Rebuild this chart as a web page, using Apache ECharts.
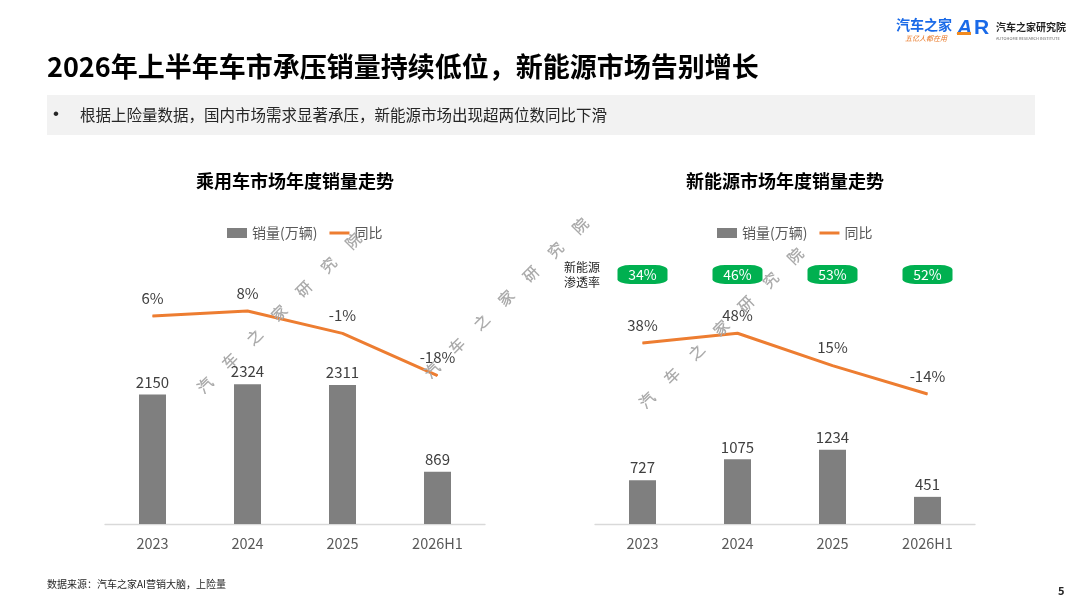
<!DOCTYPE html>
<html>
<head>
<meta charset="utf-8">
<script src="https://cdn.jsdelivr.net/npm/echarts@6/dist/echarts.min.js"></script>
<style>
  html, body { margin: 0; padding: 0; background: #fff; }
  #main { width: 1080px; height: 608px; }
</style>
</head>
<body>
<div id="main"></div>
<script>
// 乘用车
var years = ['2023', '2024', '2025', '2026H1']
var carSales = [2150, 2324, 2311, 869]
var carYoy = [6, 8, -1, -18]
// 新能源
var nevSales = [727, 1075, 1234, 451]
var nevYoy = [38, 48, 15, -14]
var nevShare = [34, 46, 53, 52]

var FONT = '"Noto Sans CJK SC", "Noto Sans", sans-serif'
var chart = echarts.init(document.getElementById('main'))

// watermark "汽车之家研究院", one char at a time along a diagonal
function watermark(x0, y0) {
    var chars = '汽车之家研究院'.split('')
    return chars.map(function (c, i) {
        return {
            type: 'text', x: x0 + i * 24.7, y: y0 - i * 24, rotation: Math.PI / 4, z: 100,
            style: { text: c, font: '300 15px ' + FONT, fill: 'rgba(0,0,0,0)', stroke: '#a9a9a9', lineWidth: 0.7, align: 'center', verticalAlign: 'middle' }
        }
    })
}

var barLabel = { show: true, position: 'top', distance: 5, color: '#404040', fontSize: 15, fontFamily: FONT }
var lineLabel = { show: true, position: 'top', distance: 10, color: '#404040', fontSize: 15, fontFamily: FONT, formatter: '{c}%' }
var xAxisBase = {
    type: 'category', data: years,
    axisLine: { lineStyle: { color: '#d9d9d9', width: 1.3 } },
    axisTick: { show: false },
    axisLabel: { color: '#595959', fontSize: 14.5, fontFamily: FONT, margin: 12 }
}
var legendBase = {
    data: [
        { name: '销量(万辆)', icon: 'rect' },
        { name: '同比', icon: 'path://M0,0 L20,0 L20,3 L0,3 Z' }
    ],
    top: 221, itemWidth: 20, itemHeight: 10, itemGap: 12,
    textStyle: { color: '#595959', fontSize: 14, fontFamily: FONT }
}
var lineStyle = { color: '#ed7d31', width: 3 }

var option = {
    animation: false,
    backgroundColor: '#fff',
    textStyle: { fontFamily: FONT },
    legend: [
        Object.assign({ left: 222 }, legendBase),
        Object.assign({ left: 712 }, legendBase)
    ],
    grid: [
        { left: 105, width: 380, top: 199, bottom: 84 },
        { left: 595, width: 380, top: 199, bottom: 84 },
        { left: 595, width: 380, top: 265, height: 19 }
    ],
    xAxis: [
        Object.assign({ gridIndex: 0 }, xAxisBase),
        Object.assign({ gridIndex: 1 }, xAxisBase),
        { gridIndex: 2, type: 'category', data: years, show: false }
    ],
    yAxis: [
        { gridIndex: 0, type: 'value', min: 0, max: 5400, show: false, splitLine: { show: false } },
        { gridIndex: 0, type: 'value', min: -77.9, max: 53.2, show: false, splitLine: { show: false } },
        { gridIndex: 1, type: 'value', min: 0, max: 5400, show: false, splitLine: { show: false } },
        { gridIndex: 1, type: 'value', min: -146.6, max: 185, show: false, splitLine: { show: false } },
        {
            gridIndex: 2, type: 'category', data: ['新能源渗透率'],
            axisLine: { show: false }, axisTick: { show: false },
            axisLabel: { margin: -5, color: '#262626', fontSize: 12, lineHeight: 15, fontFamily: FONT, formatter: function () { return '新能源\n渗透率' } }
        }
    ],
    series: [
        { name: '销量(万辆)', type: 'bar', xAxisIndex: 0, yAxisIndex: 0, data: carSales, barWidth: 27, itemStyle: { color: '#7f7f7f' }, label: barLabel },
        { name: '同比', type: 'line', xAxisIndex: 0, yAxisIndex: 1, data: carYoy, symbol: 'circle', symbolSize: 1, lineStyle: lineStyle, itemStyle: { color: '#ed7d31' }, label: lineLabel },
        { name: '销量(万辆)', type: 'bar', xAxisIndex: 1, yAxisIndex: 2, data: nevSales, barWidth: 27, itemStyle: { color: '#7f7f7f' }, label: barLabel },
        { name: '同比', type: 'line', xAxisIndex: 1, yAxisIndex: 3, data: nevYoy, symbol: 'circle', symbolSize: 1, lineStyle: lineStyle, itemStyle: { color: '#ed7d31' }, label: lineLabel },
        {
            name: '渗透率', type: 'scatter', xAxisIndex: 2, yAxisIndex: 4,
            data: nevShare.map(function (v, i) { return [years[i], '新能源渗透率', v] }),
            symbol: 'roundRect', symbolSize: [50, 19], itemStyle: { color: '#00b050', opacity: 1 },
            label: { show: true, position: 'inside', color: '#fff', fontSize: 14, fontFamily: FONT, formatter: function (p) { return p.value[2] + '%' } }
        }
    ],
    graphic: [
        { type: 'text', left: 47, top: 53, style: { text: '2026年上半年车市承压销量持续低位，新能源市场告别增长', font: 'bold 27px ' + FONT, fill: '#000' } },
        { type: 'rect', shape: { x: 47, y: 95, width: 988, height: 40 }, style: { fill: '#f2f2f2' } },
        { type: 'text', left: 53, top: 106, style: { text: '•', font: '17px "Liberation Sans", Arial, sans-serif', fill: '#262626' } },
        { type: 'text', left: 80, top: 107, style: { text: '根据上险量数据，国内市场需求显著承压，新能源市场出现超两位数同比下滑', font: '15.5px ' + FONT, fill: '#262626' } },
        { type: 'text', x: 295, y: 181, style: { text: '乘用车市场年度销量走势', font: 'bold 18px ' + FONT, fill: '#000', align: 'center', verticalAlign: 'middle' } },
        { type: 'text', x: 785, y: 181, style: { text: '新能源市场年度销量走势', font: 'bold 18px ' + FONT, fill: '#000', align: 'center', verticalAlign: 'middle' } },
        // logos
        { type: 'text', left: 896, top: 18, style: { text: '汽车之家', font: 'bold 14px ' + FONT, fill: '#1a6ae8' } },
        { type: 'text', left: 905, top: 35, style: { text: '五亿人都在用', font: 'italic 7px ' + FONT, fill: '#e8731f' } },
        { type: 'text', left: 957, top: 18, style: { text: 'A', font: 'bold italic 21px "Liberation Sans", sans-serif', fill: '#1a6ae8' } },
        { type: 'text', left: 974, top: 18, style: { text: 'R', font: 'bold 21px "Liberation Sans", sans-serif', fill: '#1a6ae8' } },
        { type: 'rect', shape: { x: 957, y: 32, width: 14, height: 3 }, style: { fill: '#f28a1e' } },
        { type: 'text', left: 996, top: 22, style: { text: '汽车之家研究院', font: 'bold 10px ' + FONT, fill: '#222' } },
        { type: 'text', left: 996, top: 36, style: { text: 'AUTOHOME RESEARCH INSTITUTE', font: '4px ' + FONT, fill: '#666' } },
        // footer
        { type: 'text', left: 47, top: 579, style: { text: '数据来源：汽车之家AI营销大脑，上险量', font: '10px ' + FONT, fill: '#262626' } },
        { type: 'text', left: 1058, top: 585, style: { text: '5', font: 'bold 11px ' + FONT, fill: '#262626' } }
    ].concat(watermark(205, 385), watermark(432, 370), watermark(647, 400))
}

chart.setOption(option)
</script>
</body>
</html>
